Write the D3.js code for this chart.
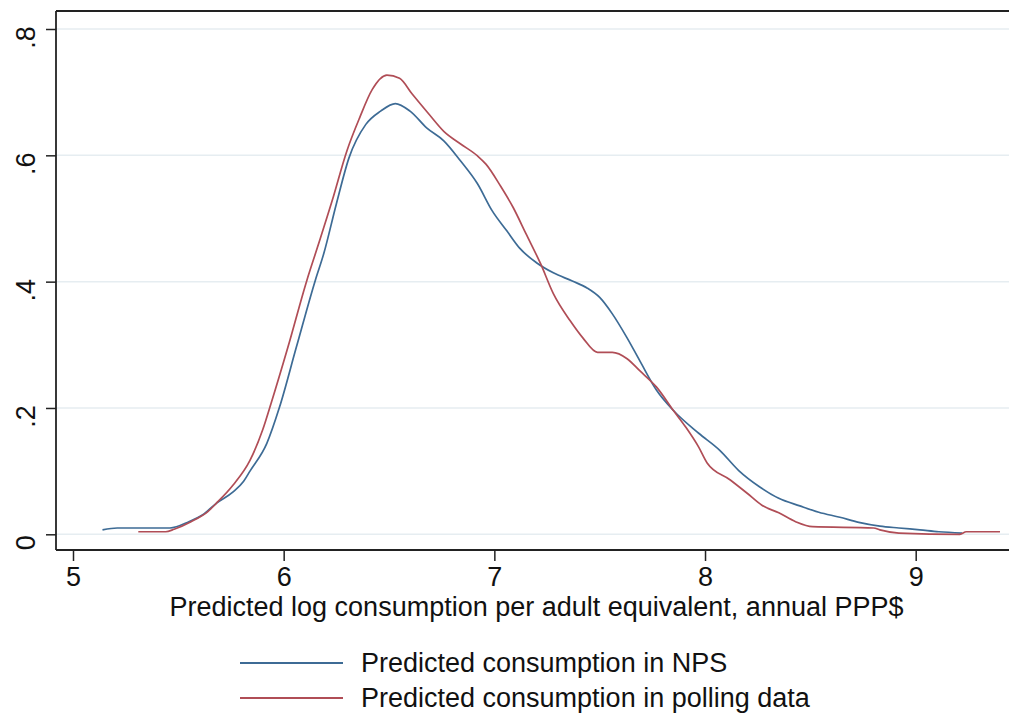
<!DOCTYPE html>
<html>
<head>
<meta charset="utf-8">
<script src="https://cdn.jsdelivr.net/npm/d3@7"></script>
<style>
  html, body { margin: 0; padding: 0; background: #fff; }
  svg { display: block; }
  text { font-family: "Liberation Sans", Arial, sans-serif; fill: #111; }
</style>
</head>
<body>
<svg id="chart" width="1009" height="717"></svg>
<script>
// ---- data ----
const npsX = [5.14, 5.21, 5.46, 5.55, 5.62, 5.68, 5.76, 5.81, 5.84, 5.92, 5.98, 6.06, 6.15, 6.19, 6.25, 6.31, 6.39, 6.46, 6.53, 6.60, 6.68, 6.76, 6.84, 6.92, 6.99, 7.06, 7.12, 7.20, 7.28, 7.37, 7.44, 7.50, 7.56, 7.63, 7.69, 7.77, 7.85, 7.97, 8.07, 8.16, 8.26, 8.35, 8.45, 8.54, 8.64, 8.73, 8.83, 8.92, 9.02, 9.11, 9.22];
const npsY = [0.007, 0.010, 0.010, 0.020, 0.032, 0.049, 0.067, 0.084, 0.100, 0.144, 0.201, 0.296, 0.402, 0.444, 0.523, 0.596, 0.649, 0.670, 0.682, 0.670, 0.643, 0.623, 0.591, 0.555, 0.512, 0.480, 0.453, 0.430, 0.414, 0.401, 0.390, 0.375, 0.349, 0.311, 0.275, 0.228, 0.196, 0.160, 0.133, 0.101, 0.075, 0.057, 0.045, 0.035, 0.027, 0.019, 0.013, 0.010, 0.007, 0.004, 0.002];
const pollX = [5.31, 5.44, 5.48, 5.56, 5.64, 5.68, 5.76, 5.84, 5.90, 5.94, 6.02, 6.11, 6.16, 6.23, 6.30, 6.36, 6.42, 6.49, 6.55, 6.61, 6.69, 6.76, 6.84, 6.92, 6.96, 7.03, 7.09, 7.15, 7.22, 7.28, 7.36, 7.42, 7.49, 7.56, 7.63, 7.69, 7.77, 7.85, 7.91, 7.97, 8.01, 8.12, 8.20, 8.27, 8.35, 8.43, 8.51, 8.80, 8.83, 8.92, 9.21, 9.24, 9.40];
const pollY = [0.004, 0.004, 0.008, 0.020, 0.036, 0.049, 0.078, 0.117, 0.165, 0.207, 0.296, 0.402, 0.454, 0.528, 0.607, 0.659, 0.704, 0.727, 0.722, 0.697, 0.665, 0.638, 0.618, 0.599, 0.586, 0.551, 0.517, 0.476, 0.428, 0.381, 0.338, 0.311, 0.288, 0.288, 0.278, 0.259, 0.233, 0.196, 0.169, 0.138, 0.113, 0.086, 0.065, 0.046, 0.034, 0.020, 0.012, 0.010, 0.007, 0.002, 0.000, 0.004, 0.004];
const xTicks = [5, 6, 7, 8, 9];
const yTicks = [0, 0.2, 0.4, 0.6, 0.8];
const seriesNames = ["Predicted consumption in NPS", "Predicted consumption in polling data"];
const xTitle = "Predicted log consumption per adult equivalent, annual PPP$";

// ---- layout ----
const W = 1009, H = 717;
const plotL = 56, plotT = 11, plotB = 550, plotR = W;
const colors = ["#3d6b95", "#b04d56"];
const FS = 27;

const svg = d3.select("#chart");
const x = d3.scaleLinear().domain([5, 9]).range([73, 915.7]);
const y = d3.scaleLinear().domain([0, 0.8]).range([534.3, 29]);

// gridlines
svg.append("g").selectAll("line").data(yTicks).join("line")
  .attr("x1", plotL).attr("x2", plotR)
  .attr("y1", d => y(d)).attr("y2", d => y(d))
  .attr("stroke", "#e6edf1").attr("stroke-width", 1.5);

// series
const line = d3.line().x(d => x(d[0])).y(d => y(d[1])).curve(d3.curveMonotoneX);
const series = [d3.zip(npsX, npsY), d3.zip(pollX, pollY)];
svg.append("g").selectAll("path").data(series).join("path")
  .attr("d", line)
  .attr("fill", "none")
  .attr("stroke", (d, i) => colors[i])
  .attr("stroke-width", 1.7)
  .attr("stroke-linejoin", "round");

// frame: top border
svg.append("line").attr("x1", plotL).attr("x2", plotR).attr("y1", plotT).attr("y2", plotT)
  .attr("stroke", "#222").attr("stroke-width", 1.8);

// x axis
const xAxis = svg.append("g").attr("transform", `translate(0,${plotB})`)
  .call(d3.axisBottom(x).tickValues(xTicks).tickSize(11).tickPadding(6).tickFormat(d3.format("d")));
xAxis.select(".domain").attr("d", `M${plotL},0H${plotR}`).attr("stroke", "#222").attr("stroke-width", 1.8);
xAxis.selectAll(".tick line").attr("stroke", "#222").attr("stroke-width", 1.5);
xAxis.selectAll(".tick text").attr("font-size", FS).attr("font-family", "Liberation Sans, Arial, sans-serif")
  .attr("fill", "#111").attr("dy", "0.71em");

// y axis
const yFmt = d => d === 0 ? "0" : d3.format(".1f")(d).replace(/^0/, "");
const yAxis = svg.append("g").attr("transform", `translate(${plotL},0)`)
  .call(d3.axisLeft(y).tickValues(yTicks).tickSize(10).tickFormat(yFmt));
yAxis.select(".domain").attr("d", `M0,${plotT}V${plotB}`).attr("stroke", "#222").attr("stroke-width", 1.8);
yAxis.selectAll(".tick line").attr("stroke", "#222").attr("stroke-width", 1.5);
yAxis.selectAll(".tick text")
  .attr("font-size", FS).attr("font-family", "Liberation Sans, Arial, sans-serif").attr("fill", "#111")
  .attr("x", null).attr("dy", null)
  .attr("text-anchor", "middle")
  .attr("transform", "translate(-21,8) rotate(-90)");

// x title
svg.append("text").attr("x", 536.5).attr("y", 616)
  .attr("text-anchor", "middle").attr("font-size", FS).text(xTitle);

// legend
const leg = svg.append("g").selectAll("g").data(seriesNames).join("g")
  .attr("transform", (d, i) => `translate(0,${663 + i * 35})`);
leg.append("line").attr("x1", 240).attr("x2", 343).attr("y1", 0).attr("y2", 0)
  .attr("stroke", (d, i) => colors[i]).attr("stroke-width", 1.8);
leg.append("text").attr("x", 361).attr("y", 9).attr("font-size", FS).text(d => d);
</script>
</body>
</html>
